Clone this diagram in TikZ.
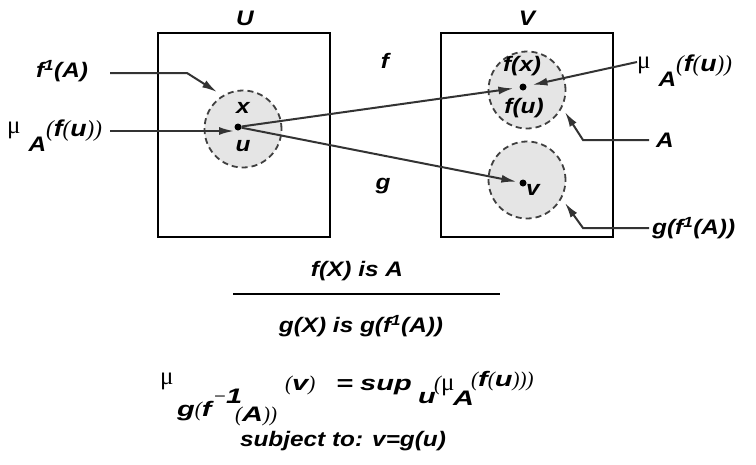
\documentclass[tikz,border=0pt]{standalone}
\usepackage{fontspec}
\setmainfont{Liberation Sans}[FakeStretch=1.16]
\newfontfamily\mufont{Liberation Serif}
\newfontfamily\formfont{Liberation Sans}[FakeStretch=1.38]
\usetikzlibrary{arrows.meta}

\newcommand{\mug}{{\mufont\upshape\mdseries\fontsize{25}{25}\selectfont μ}}
\newcommand{\lpar}{{\mufont\mdseries(}}
\newcommand{\rpar}{{\mufont\mdseries)}}
\newcommand{\muAfu}{\mug\hspace{8pt}\raisebox{-18pt}{A}\raisebox{-3pt}{\fontsize{23}{24}\selectfont\lpar\textit{f}\lpar\textit{u}\rpar\rpar}}

\begin{document}
\begin{tikzpicture}[
        x=1pt, y=-1pt,
        every node/.style={
            font=\fontsize{21}{24}\selectfont\bfseries\itshape,
            inner sep=1pt
        },
        form/.style={
            anchor=base west,
            inner sep=0pt,
            font=\fontsize{21}{24}\selectfont\formfont\bfseries\itshape
        },
        setbox/.style={
            draw,
            line width=1.8pt,
            minimum width=172pt,
            minimum height=204pt
        },
        blob/.style={
            circle,
            draw=black!75,
            fill=black!10,
            line width=1.8pt,
            dash pattern=on 6pt off 4pt,
            minimum size=77pt
        },
        pnt/.style={circle, fill, inner sep=0pt, minimum size=7pt},
        arr/.style={-{Latex[length=15pt,width=8pt]}, line width=2pt, black!80}
    ]
    \useasboundingbox (0,0) rectangle (756,464);

    % the two spaces
    \node[setbox] (Ubox) at (244,135) {};
    \node[setbox] (Vbox) at (527,135) {};
    \node (Ulab) at (245,18) {U};
    \node (Vlab) at (527,18) {V};

    % fuzzy sets
    \node[blob] (preA) at (243,129) {};
    \node[blob] (setA) at (527,90) {};
    \node[blob] (setG) at (527,180) {};

    \node[pnt] (udot) at (238,127) {};
    \node[pnt] (fudot) at (523,87) {};
    \node[pnt] (vdot) at (523,183) {};
    \node (xlab) at (243,108) {x};
    \node (ulab) at (243,146) {u};
    \node (fxlab) at (522,66) {f(x)};
    \node (fulab) at (524,108) {f(u)};
    \node (vlab) at (533,190) {v};

    % mappings
    \draw[arr, shorten >=6pt] (udot) -- (fudot);
    \draw[arr, shorten >=3pt] (udot) -- (vdot);
    \node (flab) at (385,61) {f};
    \node (glab) at (383,186) {g};

    % pointers on the left
    \node (finv) at (62,71) {f\textsuperscript{1}(A)};
    \coordinate (finvS) at (110,73);
    \coordinate (finvK) at (187,73);
    \coordinate (finvT) at (217,92);
    \draw[arr] (finvS) -- (finvK) -- (finvT);

    \node[anchor=base west] (muL) at (6,133) {\muAfu};
    \coordinate (muLS) at (110,131);
    \coordinate (muLT) at (234,131);
    \draw[arr] (muLS) -- (muLT);

    % pointers on the right
    \node[anchor=base west] (muR) at (636,68) {\muAfu};
    \coordinate (muRS) at (637,62);
    \draw[arr, shorten >=6pt] (muRS) -- (fudot);

    \node (Alab) at (665,140) {A};
    \coordinate (AS) at (649,140);
    \coordinate (AK) at (583,140);
    \coordinate (AT) at (565,112);
    \draw[arr] (AS) -- (AK) -- (AT);

    \node[anchor=west] (gfA) at (651,228) {g(f\textsuperscript{1}(A))};
    \coordinate (gS) at (649,228);
    \coordinate (gK) at (583,228);
    \coordinate (gT) at (565,203);
    \draw[arr] (gS) -- (gK) -- (gT);

    % inference rule
    \node (prem) at (357,271) {f(X) is A};
    \coordinate (ruleL) at (233,294);
    \coordinate (ruleR) at (500,294);
    \draw[line width=1.8pt] (ruleL) -- (ruleR);
    \node (concl) at (361,326) {g(X) is g(f\textsuperscript{1}(A))};

    % membership formula
    \node[form] (fmu) at (160,384) {\mug};
    \node[form] (fgf) at (177,416) {g\lpar f};
    \node[form] (fm1) at (214,403) {{\mufont\mdseries\upshape −}1};
    \node[form] (fA) at (235,421) {\lpar A\rpar\rpar};
    \node[form] (fv) at (285,390) {\lpar v\rpar};
    \node[form] (feq) at (336,390) {=};
    \node[form] (fsup) at (360,390) {sup};
    \node[form] (fu) at (418,403) {u};
    \node[form] (fmu2) at (434,390) {\lpar\mug};
    \node[form] (fA2) at (453,405) {A};
    \node[form] (ffu) at (471,386) {\lpar f\lpar u\rpar\rpar\rpar};
    \node (subj) at (343,441) {subject to: v=g(u)};
\end{tikzpicture}
\end{document}
